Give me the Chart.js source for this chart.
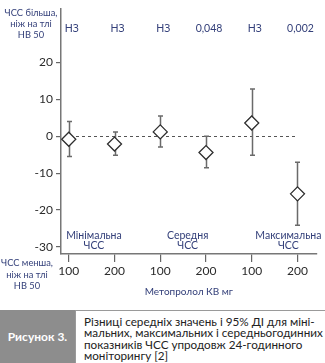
<!DOCTYPE html>
<html lang="uk">
<head>
<meta charset="utf-8">
<script src="https://cdn.jsdelivr.net/npm/chart.js@4/dist/chart.umd.min.js"></script>
<style>
  html, body { margin: 0; padding: 0; background: #fff; }
  body { width: 325px; height: 363px; overflow: hidden; font-family: Lato, "Noto Sans", sans-serif; }
  #wrap { position: relative; width: 325px; height: 310px; }
  #caption { position: absolute; left: 0; top: 310px; width: 325px; height: 53px; display: flex; }
  #caption .tag { width: 75px; background: #8d8d8d; color: #fff; font-weight: bold; font-size: 12px;
    display: flex; align-items: center; justify-content: center; }
  #caption .txt { flex: 1; border: 1px solid #9a9a9a; border-right: none; border-bottom: none; padding: 5px 0 0 8px;
    font-size: 11.7px; line-height: 11.4px; color: #222; white-space: nowrap; }
</style>
</head>
<body>
<div id="wrap"><canvas id="c" width="325" height="310"></canvas></div>
<div id="caption">
  <div class="tag">Рисунок 3.</div>
  <div class="txt">Різниці середніх значень і 95% ДІ для міні-<br>мальних, максимальних і середньогодинних<br>показників ЧСС упродовж 24-годинного<br>моніторингу [2]</div>
</div>
<script>
// Metoprolol CR dose per position, mean difference and 95% CI bounds
const doses = ["100", "200", "100", "200", "100", "200"];
const meanDiff = [-0.8, -2.1, 1.2, -4.4, 3.6, -15.6];
const ciLow = [-5.5, -5.1, -2.9, -8.5, -5.1, -24.1];
const ciHigh = [4.0, 1.2, 5.5, 0.0, 12.8, -7.0];
const pValues = ["НЗ", "НЗ", "НЗ", "0,048", "НЗ", "0,002"];
const groupNames = [["Мінімальна", "ЧСС"], ["Середня", "ЧСС"], ["Максимальна", "ЧСС"]];
const groupCenters = [1.55, 3.6, 5.8];
const yTicks = [20, 10, 0, -10, -20, -30];

const positions = doses.map((d, i) => i + 1);
const navy = "#34407a";
const font = "Lato, \"Noto Sans\", sans-serif";

const decor = {
  id: "decor",
  beforeDatasetsDraw(chart) {
    const { ctx, scales: { x, y }, chartArea } = chart;
    ctx.save();
    // zero reference line
    ctx.strokeStyle = "#555";
    ctx.lineWidth = 1;
    ctx.setLineDash([3, 3]);
    ctx.beginPath();
    const y0 = Math.round(y.getPixelForValue(0)) + 0.5;
    ctx.moveTo(chartArea.left + 3, y0);
    ctx.lineTo(x.getPixelForValue(positions[positions.length - 1]), y0);
    ctx.stroke();
    ctx.setLineDash([]);
    // confidence interval whiskers
    ctx.strokeStyle = "#6a6a6a";
    ctx.lineWidth = 1.5;
    positions.forEach((p, i) => {
      const px = Math.round(x.getPixelForValue(p)) + 0.5;
      const yl = y.getPixelForValue(ciLow[i]);
      const yh = y.getPixelForValue(ciHigh[i]);
      ctx.beginPath();
      ctx.moveTo(px, yl); ctx.lineTo(px, yh);
      ctx.moveTo(px - 2.5, yl); ctx.lineTo(px + 2.5, yl);
      ctx.moveTo(px - 2.5, yh); ctx.lineTo(px + 2.5, yh);
      ctx.stroke();
    });
    ctx.restore();
  },
  afterDraw(chart) {
    const { ctx, scales: { x, y } } = chart;
    ctx.save();
    ctx.fillStyle = navy;
    ctx.textAlign = "center";
    ctx.textBaseline = "middle";
    // p-values above each estimate
    ctx.font = "10.5px " + font;
    positions.forEach((p, i) => {
      ctx.fillText(pValues[i], x.getPixelForValue(p) + 3, y.getPixelForValue(29.3));
    });
    // group names
    groupNames.forEach((lines, g) => {
      const gx = x.getPixelForValue(groupCenters[g]);
      ctx.fillText(lines[0], gx, y.getPixelForValue(-26.8));
      ctx.fillText(lines[1], gx, y.getPixelForValue(-29.6));
    });
    // direction notes beside the value axis
    ctx.font = "9.3px " + font;
    ["ЧСС більша,", "ніж на тлі", "НВ 50"].forEach((t, k) => ctx.fillText(t, 31, 13 + k * 11));
    ["ЧСС менша,", "ніж на тлі", "НВ 50"].forEach((t, k) => ctx.fillText(t, 27, 263 + k * 11.5));
    ctx.restore();
  }
};

new Chart(document.getElementById("c"), {
  type: "scatter",
  data: {
    datasets: [{
      data: positions.map((p, i) => ({ x: p, y: meanDiff[i] })),
      pointStyle: "rectRot",
      pointRadius: 7,
      pointHoverRadius: 7,
      backgroundColor: "#fff",
      borderColor: "#2e2e2e",
      borderWidth: 1.3
    }]
  },
  options: {
    responsive: false,
    animation: false,
    events: [],
    layout: { padding: { top: 4, right: 3, left: 0, bottom: 12 } },
    plugins: { legend: { display: false }, tooltip: { enabled: false } },
    scales: {
      x: {
        type: "linear",
        min: 0.83,
        max: 6.42,
        afterBuildTicks(s) { s.ticks = positions.map(v => ({ value: v })); },
        afterFit(s) { s.height = 44; s.paddingLeft = 0; s.paddingRight = 0; },
        grid: { drawOnChartArea: false, drawTicks: true, tickLength: 8, color: "#666", lineWidth: 1.2 },
        border: { display: true, color: "#777", width: 1.5 },
        ticks: {
          autoSkip: false,
          maxRotation: 0,
          padding: 2,
          color: "#2b2b2b",
          font: { family: font, size: 12 },
          callback: (v) => doses[v - 1]
        },
        title: {
          display: true,
          text: "Метопролол КВ мг",
          color: navy,
          font: { family: font, size: 10 },
          padding: { top: 1, bottom: 0 }
        }
      },
      y: {
        min: -31.9,
        max: 34.7,
        afterBuildTicks(s) { s.ticks = yTicks.map(v => ({ value: v })); },
        afterFit(s) { s.width = 61; s.paddingTop = 0; s.paddingBottom = 0; },
        grid: { drawOnChartArea: false, drawTicks: true, tickLength: 5, color: "#666", lineWidth: 1.2 },
        border: { display: true, color: "#777", width: 1.5 },
        ticks: {
          padding: 3,
          color: "#2b2b2b",
          font: { family: font, size: 12 },
          callback: (v) => String(v)
        }
      }
    }
  },
  plugins: [decor]
});
</script>
</body>
</html>
